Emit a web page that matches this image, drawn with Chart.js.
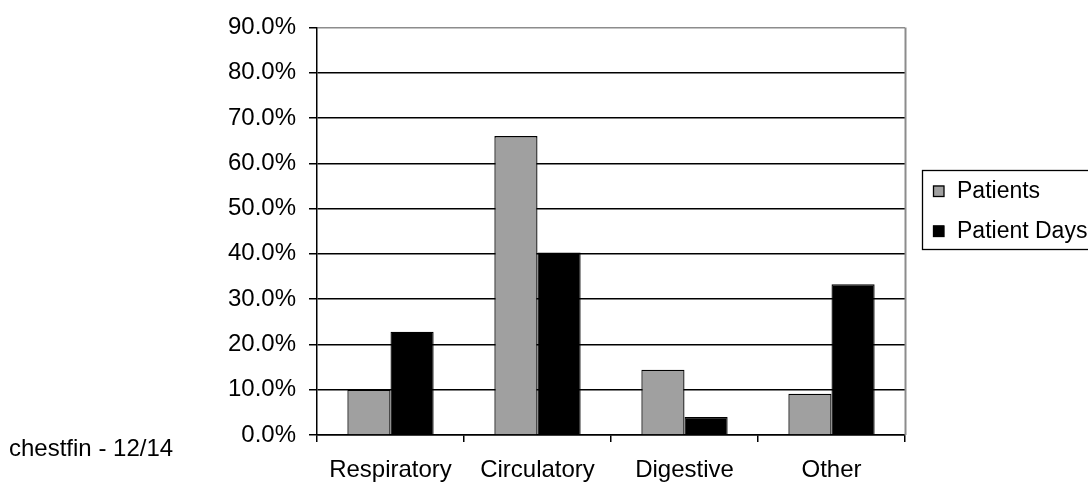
<!DOCTYPE html>
<html>
<head>
<meta charset="utf-8">
<script src="https://cdn.jsdelivr.net/npm/chart.js@4/dist/chart.umd.min.js"></script>
<style>
  html, body { margin: 0; padding: 0; background: #fff; }
  #wrap { width: 1088px; height: 484px; position: relative; }
</style>
</head>
<body>
<div id="wrap"><canvas id="c" width="1088" height="484"></canvas></div>
<script>
// Share of patients and of patient days by diagnosis group (percent)
const categories = ['Respiratory', 'Circulatory', 'Digestive', 'Other'];
const patients = [10.0, 66.0, 14.4, 9.1];
const patientDays = [22.8, 40.3, 4.0, 33.3];
const seriesNames = ['Patients', 'Patient Days'];
const seriesColors = ['#a0a0a0', '#000000'];
const footnote = 'chestfin - 12/14';

const FONT = "'Liberation Sans', Arial, Helvetica, sans-serif";

// Boxed legend to the right of the plot, plus the footnote and the plot frame
const decorations = {
  id: 'decorations',
  afterDraw(chart) {
    const ctx = chart.ctx;
    const area = chart.chartArea;
    ctx.save();

    // grey frame on the right side of the plot area
    ctx.strokeStyle = '#8c8c8c';
    ctx.lineWidth = 2;
    ctx.beginPath();
    ctx.moveTo(area.right + 0.5, area.top);
    ctx.lineTo(area.right + 0.5, area.bottom);
    ctx.stroke();

    // legend box
    const lx = 922.5, ly = 170.5, lw = 190, lh = 79;
    ctx.fillStyle = '#fff';
    ctx.fillRect(lx, ly, lw, lh);
    ctx.strokeStyle = '#000';
    ctx.lineWidth = 1.3;
    ctx.strokeRect(lx, ly, lw, lh);
    ctx.font = '23px ' + FONT;
    ctx.textBaseline = 'middle';
    ctx.textAlign = 'left';
    chart.data.datasets.forEach((ds, i) => {
      const cy = 191 + i * 40;
      ctx.fillStyle = ds.backgroundColor;
      ctx.fillRect(933, cy - 5.5, 11, 11);
      ctx.strokeStyle = '#000';
      ctx.lineWidth = 1.3;
      ctx.strokeRect(933.5, cy - 5, 10.5, 10.5);
      ctx.fillStyle = '#000';
      ctx.fillText(ds.label, 957, cy + 1);
    });

    // footnote
    ctx.font = '24px ' + FONT;
    ctx.fillStyle = '#000';
    ctx.textBaseline = 'middle';
    ctx.fillText(footnote, 9, 449);
    ctx.restore();
  }
};

new Chart(document.getElementById('c'), {
  type: 'bar',
  data: {
    labels: categories,
    datasets: [
      { label: seriesNames[0], data: patients, backgroundColor: seriesColors[0],
        borderColor: '#000', borderWidth: 1.3 },
      { label: seriesNames[1], data: patientDays, backgroundColor: seriesColors[1],
        borderColor: '#000', borderWidth: 1.3 }
    ]
  },
  options: {
    responsive: false,
    animation: false,
    devicePixelRatio: 1,
    layout: { padding: { top: 25, right: 183, left: 0, bottom: 0 } },
    datasets: { bar: { categoryPercentage: 0.587, barPercentage: 1.0 } },
    plugins: {
      legend: { display: false },
      tooltip: { enabled: false }
    },
    scales: {
      x: {
        afterFit(scale) { scale.height = 49; },
        grid: {
          display: true,
          offset: true,
          drawOnChartArea: false,
          drawTicks: true,
          tickLength: 7,
          tickColor: '#000',
          color: '#000',
          lineWidth: 1.5
        },
        border: { display: true, color: '#000', width: 1.5 },
        ticks: {
          color: '#000',
          font: { family: FONT, size: 24 },
          padding: 14,
          maxRotation: 0,
          autoSkip: false
        }
      },
      y: {
        min: 0,
        max: 90,
        afterFit(scale) { scale.width = 317; },
        grid: {
          color: (c) => (c.tick && c.tick.value === 90 ? '#8c8c8c' : '#000'),
          lineWidth: 1.5,
          drawTicks: true,
          tickLength: 8,
          tickColor: '#000'
        },
        border: { display: true, color: '#000', width: 1.5 },
        ticks: {
          stepSize: 10,
          color: '#000',
          font: { family: FONT, size: 24 },
          padding: 13,
          callback: (v) => v.toFixed(1) + '%'
        }
      }
    }
  },
  plugins: [decorations]
});
</script>
</body>
</html>
